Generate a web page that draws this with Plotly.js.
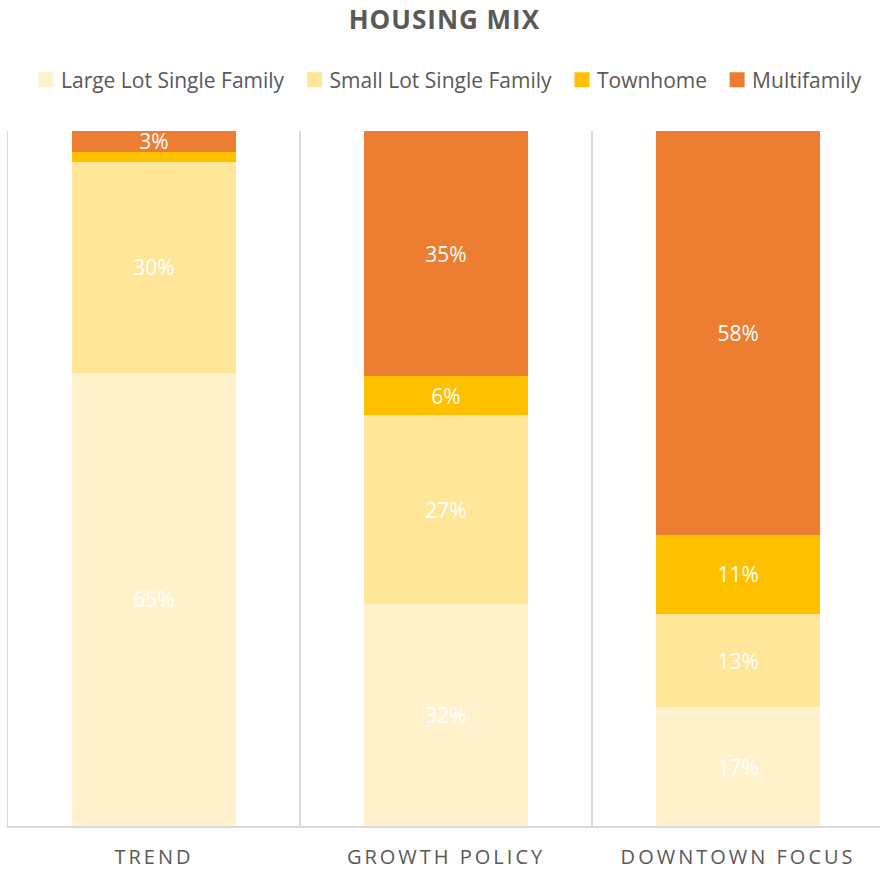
<!DOCTYPE html>
<html>
<head>
<meta charset="utf-8">
<script src="https://cdn.plot.ly/plotly-3.0.1.min.js"></script>
<style>
html,body{margin:0;padding:0;background:#fff;}
#chart .xtick text{letter-spacing:3px;}
#chart .gtitle{letter-spacing:1px;}
#chart .legendpoints{transform:scale(1.25);}
</style>
</head>
<body>
<div id="chart" style="width:880px;height:873px;"></div>
<script>
const categories = ["TREND", "GROWTH POLICY", "DOWNTOWN FOCUS"];
const seriesNames = ["Large Lot Single Family", "Small Lot Single Family", "Townhome", "Multifamily"];
const largeLot = [65.2, 31.9, 17.1];
const smallLot = [30.4, 27.2, 13.4];
const townhome = [1.4, 5.6, 11.4];
const multifamily = [3.0, 35.3, 58.1];
const colors = ["#FFF2CC", "#FFE699", "#FFC000", "#ED7D31"];

const allSeries = [largeLot, smallLot, townhome, multifamily];
const traces = allSeries.map((vals, i) => ({
  type: "bar",
  name: seriesNames[i],
  x: categories,
  y: vals,
  marker: {color: colors[i], line: {width: 0}},
  text: vals.map(v => v >= 2 ? Math.round(v) + "%" : ""),
  textposition: "inside",
  insidetextanchor: "middle",
  textangle: 0,
  cliponaxis: false,
  insidetextfont: {color: "#ffffff", size: 21, family: "Open Sans, sans-serif"},
  hoverinfo: "name+y"
}));

const layout = {
  width: 880, height: 873,
  barmode: "stack",
  bargap: 0.44,
  uniformtext: {mode: "show", minsize: 21},
  margin: {l: 8, r: 0, t: 131, b: 47},
  paper_bgcolor: "#ffffff",
  plot_bgcolor: "#ffffff",
  font: {family: "Open Sans, sans-serif", color: "#595959"},
  title: {text: "<b>HOUSING MIX</b>", x: 0.505, xanchor: "center", y: 0.988, yanchor: "top",
          font: {size: 26, color: "#595959", family: "Open Sans, sans-serif"}},
  showlegend: true,
  legend: {orientation: "h", x: 0.5, xanchor: "center", y: 1.0734, yanchor: "middle",
           font: {size: 21, color: "#595959"}, traceorder: "normal", itemwidth: 30},
  xaxis: {type: "category", range: [-0.5, 2.486], tickson: "boundaries", showgrid: true,
          gridcolor: "#d9d9d9", gridwidth: 1.5, ticks: "", showline: true, linecolor: "#d9d9d9", linewidth: 2,
          ticklabelstandoff: 12,
          tickfont: {size: 20, color: "#595959"}, fixedrange: true},
  yaxis: {range: [0, 100], showgrid: false, showticklabels: false, zeroline: false,
          showline: true, linecolor: "#d9d9d9", linewidth: 1.5, fixedrange: true}
};

Plotly.newPlot("chart", traces, layout, {displayModeBar: false, staticPlot: true});
</script>
</body>
</html>
